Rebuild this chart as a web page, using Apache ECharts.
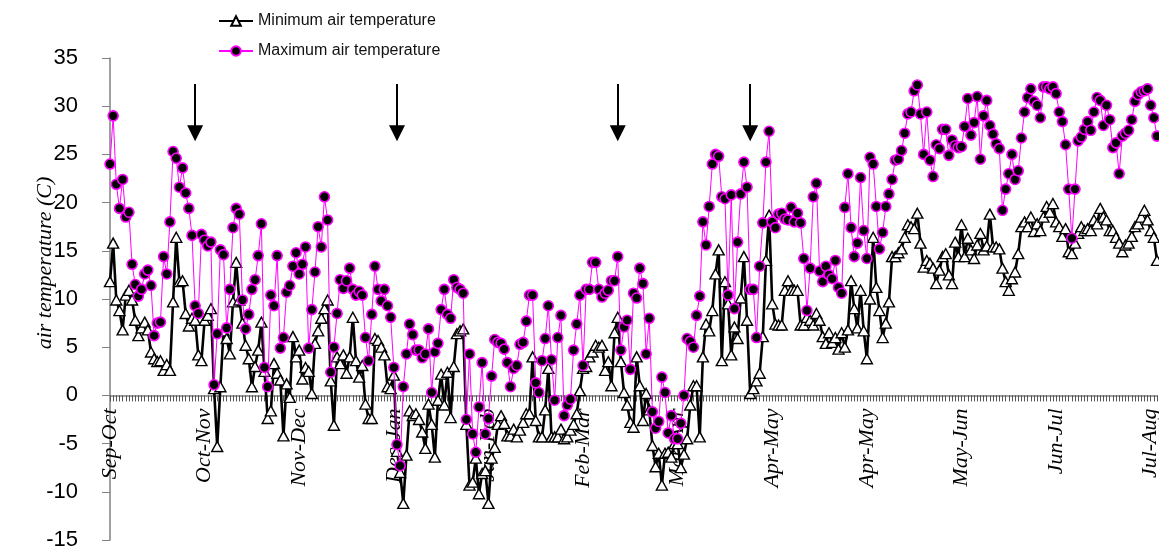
<!DOCTYPE html>
<html><head><meta charset="utf-8">
<script src="https://cdn.jsdelivr.net/npm/echarts@6/dist/echarts.min.js"></script>
<style>html,body{margin:0;padding:0;background:#fff}#c{width:1159px;height:547px}</style>
</head><body><div id="c"></div>
<script>
const monthLabels = ['Sep-Oct','Oct-Nov','Nov-Dec','Dec-Jan','Jan-Feb','Feb-Mar','Mar-Apr','Apr-May','Apr-May','May-Jun','Jun-Jul','Jul-Aug'];
const labelEvery = 30;

const minTemp = [
11.8,15.8,9.9,8.8,6.8,10.4,10.9,9.9,7.8,6.2,7.0,7.6,6.8,4.5,3.8,3.5,3.6,2.6,3.2,2.6,
9.7,16.4,11.8,11.9,8.5,7.2,8.0,7.8,4.2,3.6,7.8,8.3,9.0,0.7,-5.3,0.9,6.7,5.9,4.3,9.7,
13.8,9.9,7.5,5.2,3.8,0.9,3.0,4.7,7.6,2.5,-2.4,-1.6,3.3,2.3,1.6,-4.2,1.2,-0.2,6.1,4.0,
4.7,1.7,2.9,2.5,0.2,5.4,6.7,8.0,9.0,9.9,1.5,-3.1,4.0,3.3,4.2,2.3,4.0,8.1,3.6,1.9,
3.1,-0.9,-2.4,-2.4,5.9,5.7,5.0,4.2,0.9,0.7,2.1,-5.8,-8.0,-11.2,-6.2,-1.6,-2.1,-1.9,-2.5,-3.8,
-5.5,-0.9,-3.0,-6.4,-0.5,2.2,-1.0,2.4,-2.3,3.0,6.4,6.7,6.9,-3.0,-9.3,-9.0,-6.5,-10.2,-8.1,-7.8,
-11.2,-6.5,-5.4,-3.0,-2.1,-2.9,-4.2,-4.2,-3.5,-4.3,-3.6,-2.8,-1.9,-1.9,4.0,-2.6,-4.3,-4.3,-1.5,2.8,
-4.3,-4.3,-4.3,-3.5,-4.5,-4.3,-3.6,-3.0,-1.9,0.5,2.8,3.0,4.0,4.5,5.2,5.0,5.2,2.6,3.5,1.0,
6.5,8.1,3.5,0.3,-1.0,-2.8,-3.3,4.0,1.0,-2.6,0.2,-1.5,-5.2,-7.4,-6.0,-9.3,-6.0,-5.9,-6.4,-5.0,
-5.0,-7.5,-6.1,-4.5,-1.0,1.0,1.0,-4.3,4.0,7.4,6.7,8.8,12.6,15.1,3.6,11.8,9.5,4.2,7.1,5.9,
10.1,14.4,7.8,0.2,0.7,1.5,2.3,6.1,14.0,18.7,9.5,7.4,7.3,7.3,10.9,11.9,10.9,10.9,10.9,7.3,
7.3,8.1,7.8,7.3,8.5,7.8,6.1,5.4,6.5,5.5,6.0,4.8,6.5,5.0,6.8,11.9,9.0,7.0,10.9,6.7,
3.8,10.0,16.4,11.2,8.8,6.0,7.5,9.7,14.4,14.4,14.8,15.2,16.4,17.7,17.5,17.3,18.9,15.8,13.3,14.0,
13.7,13.2,11.6,13.0,14.4,14.7,12.5,11.6,15.9,14.4,17.7,14.4,16.3,15.1,14.2,15.6,16.8,15.1,15.5,18.8,
15.4,15.4,15.2,13.2,11.8,10.9,12.1,12.8,14.7,17.5,18.0,17.5,18.5,17.0,17.8,17.1,18.5,19.6,19.0,19.9,
18.0,17.5,16.5,17.3,14.9,14.7,15.8,16.8,17.5,17.1,17.3,17.1,18.2,17.8,19.4,18.5,18.2,17.1,17.1,16.4,
15.8,14.9,15.6,15.8,16.5,17.5,17.8,18.5,19.2,18.2,17.1,16.4,14.0
];

const maxTemp = [
24.0,29.0,21.9,19.4,22.4,18.5,19.0,13.6,11.5,10.3,11.0,12.6,13.0,11.4,6.2,7.5,7.6,14.4,12.6,18.0,
25.3,24.6,21.6,23.6,21.0,19.4,16.6,9.3,8.5,16.7,16.1,15.5,15.9,1.1,6.4,15.1,14.6,7.0,11.0,17.4,
19.4,18.8,9.9,6.9,8.4,11.0,12.0,14.5,17.8,2.9,0.9,10.4,9.3,14.5,4.9,6.0,10.7,11.4,13.4,14.8,
12.6,13.6,15.4,4.9,8.9,12.8,17.5,15.4,20.6,18.2,2.4,5.0,8.5,12.0,11.1,11.9,13.2,11.0,10.4,10.8,
10.4,6.0,3.6,8.4,13.4,11.0,9.8,11.0,9.3,8.1,2.9,-5.1,-7.3,0.9,4.3,7.4,6.3,4.7,4.7,3.9,
4.3,6.9,0.3,4.5,5.4,8.9,11.0,8.4,8.0,12.0,11.2,11.0,10.6,-2.5,4.3,-4.0,-5.9,-1.2,3.4,-4.0,
-2.4,2.0,5.8,5.5,5.4,4.8,3.4,0.9,2.8,3.1,5.3,5.5,7.7,10.4,10.4,1.3,0.3,3.6,5.9,9.3,
3.7,-0.5,6.0,8.3,-2.1,-1.0,-0.4,4.7,7.4,10.4,3.1,11.0,11.0,13.8,13.8,11.0,10.2,10.6,10.9,11.9,
11.9,14.4,4.7,7.1,7.8,2.7,10.6,10.1,13.2,11.6,4.3,8.0,-1.7,-3.4,-2.7,1.9,0.3,-3.9,-2.1,-4.5,
-4.5,-2.9,0.0,5.9,5.6,5.0,8.3,10.3,18.0,15.6,19.6,24.0,25.0,24.8,20.6,20.4,10.4,20.8,9.0,15.9,
20.9,24.2,21.6,11.0,11.0,6.0,13.4,17.9,24.2,27.4,18.0,17.4,18.8,18.9,18.3,18.2,19.5,18.0,18.9,17.9,
14.2,8.8,13.2,20.6,22.0,12.9,11.8,13.4,12.5,12.1,14.0,11.2,10.6,19.5,23.0,17.4,14.4,15.8,22.6,17.1,
14.2,24.7,24.0,19.6,15.2,16.9,19.6,20.9,22.4,24.4,24.5,25.4,27.2,29.2,29.4,31.6,32.2,29.2,25.0,29.4,
24.4,22.7,26.0,25.6,27.6,27.6,24.9,26.5,25.9,25.7,25.8,27.9,30.8,27.0,28.3,31.0,24.5,29.0,30.6,28.0,
27.1,26.1,25.6,19.2,21.4,23.0,25.0,22.4,23.3,26.7,29.4,30.9,31.8,30.5,30.1,28.8,32.0,32.0,31.8,32.0,
31.3,29.4,28.4,26.0,21.4,16.3,21.4,26.4,26.8,27.6,28.4,27.5,29.4,30.9,30.6,28.0,30.1,28.6,25.7,26.2,
23.0,26.9,27.2,27.5,28.6,30.5,31.2,31.5,31.6,31.8,30.1,28.8,26.9
];

const yTicks = { min: -15, max: 35, step: 5 };
const arrowDays = [27, 91, 161, 203];
const arrowTop = 32.3;
const arrowEnd = 27.2;

const categories = minTemp.map((_, i) => i);

const gridTop = 58, gridBottom = 7, chartH = 547;
const plotH = chartH - gridTop - gridBottom;
// shift the category axis up from the grid bottom to the zero line
const zeroOffset = -plotH * (0 - yTicks.min) / (yTicks.max - yTicks.min);

const chart = echarts.init(document.getElementById('c'), null, { renderer: 'canvas' });
chart.setOption({
  animation: false,
  backgroundColor: '#fff',
  grid: { left: 110, right: 2, top: gridTop, bottom: gridBottom, containLabel: false, outerBoundsMode: 'none' },
  legend: {
    orient: 'vertical', left: 213, top: 8, itemGap: 14, itemWidth: 34, itemHeight: 12,
    data: ['Minimum air temperature', 'Maximum air temperature'],
    textStyle: { fontFamily: 'Liberation Sans', fontSize: 16, color: '#111' }
  },
  xAxis: {
    type: 'category', data: categories, boundaryGap: false,
    position: 'bottom', offset: zeroOffset,
    axisLine: { onZero: false, lineStyle: { color: '#808080', width: 1.5 } },
    axisTick: { show: true, interval: 0, length: 6, lineStyle: { color: '#555', width: 1 } },
    axisLabel: {
      interval: labelEvery - 1, rotate: 90, margin: 13, hideOverlap: false,
      formatter: (v, idx) => monthLabels[Math.round(idx / labelEvery)] || '',
      fontFamily: 'Liberation Serif', fontStyle: 'italic', fontSize: 22, color: '#000'
    },
    splitLine: { show: false }
  },
  yAxis: {
    type: 'value', min: yTicks.min, max: yTicks.max, interval: yTicks.step,
    axisLine: { show: true, lineStyle: { color: '#808080', width: 1.5 } },
    axisTick: { show: true, length: 8, lineStyle: { color: '#808080' } },
    axisLabel: { fontFamily: 'Liberation Sans', fontSize: 22, color: '#000', margin: 32 },
    splitLine: { show: false }
  },
  graphic: [{
    type: 'text', x: 45, y: 263, rotation: Math.PI / 2,
    style: { text: 'air temperature (C)', font: 'italic 22px "Liberation Serif"', fill: '#000', align: 'center', verticalAlign: 'middle' }
  }],
  series: [
    {
      name: 'Minimum air temperature', type: 'line', data: minTemp,
      symbol: 'triangle', symbolSize: [11, 10], showSymbol: true, showAllSymbol: true,
      itemStyle: { color: '#fff', borderColor: '#000', borderWidth: 1.4 },
      lineStyle: { color: '#000', width: 2.6 },
      z: 2
    },
    {
      name: 'Maximum air temperature', type: 'line', data: maxTemp,
      symbol: 'circle', symbolSize: 10, showSymbol: true, showAllSymbol: true,
      itemStyle: { color: '#000', borderColor: '#ff00ff', borderWidth: 1.6 },
      lineStyle: { color: '#ff00ff', width: 1 },
      z: 3,
      markLine: {
        silent: true, symbol: ['none', 'triangle'], symbolSize: 16,
        lineStyle: { color: '#000', width: 2, type: 'solid' },
        itemStyle: { color: '#000' },
        label: { show: false },
        data: arrowDays.map(d => [{ coord: [d, arrowTop] }, { coord: [d, arrowEnd] }])
      }
    }
  ]
});
</script>
</body></html>
